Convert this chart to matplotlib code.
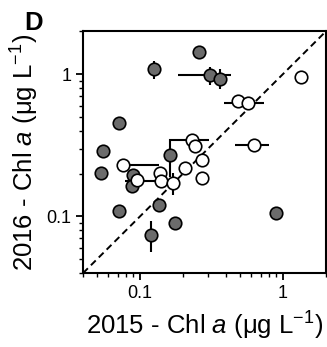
import matplotlib
matplotlib.use("Agg")
import matplotlib.pyplot as plt
from matplotlib.ticker import FixedLocator, LogLocator, NullFormatter

plt.rcParams['font.family'] = ['Liberation Sans', 'DejaVu Sans']
plt.rcParams['mathtext.fontset'] = 'custom'
plt.rcParams['mathtext.rm'] = 'Liberation Sans'
plt.rcParams['mathtext.it'] = 'Liberation Sans:italic'

# open circles
w_x = [0.076, 0.137, 0.095, 0.140, 0.170, 0.231, 0.244, 0.272, 0.207, 0.272, 0.484, 0.565, 0.63, 1.34]
w_y = [0.230, 0.201, 0.181, 0.176, 0.171, 0.345, 0.31, 0.25, 0.218, 0.186, 0.65, 0.623, 0.32, 0.953]
w_xlo = [0, 0, 0, 0.061, 0, 0.072, 0, 0, 0, 0, 0, 0.175, 0.165, 0]
w_xhi = [0.060, 0, 0, 0, 0, 0.072, 0, 0, 0, 0, 0, 0.175, 0.165, 0]
w_yerr = [0, 0, 0, 0, 0.03, 0, 0, 0, 0.02, 0, 0, 0, 0, 0]

# filled circles
g_x = [0.26, 0.126, 0.31, 0.36, 0.0716, 0.0548, 0.161, 0.0536, 0.090, 0.088, 0.0709, 0.136, 0.177, 0.119, 0.90]
g_y = [1.43, 1.08, 0.98, 0.93, 0.45, 0.287, 0.27, 0.201, 0.196, 0.164, 0.110, 0.121, 0.090, 0.0745, 0.106]
g_xerr = [0, 0, 0.125, 0, 0, 0, 0, 0, 0, 0, 0, 0, 0, 0, 0]
g_yerr = [0, 0.16, 0.14, 0.15, 0, 0, 0.08, 0, 0, 0, 0.01, 0.012, 0, 0.018, 0]

fig = plt.figure(figsize=(3.27, 3.47), dpi=100)
ax = fig.add_axes([0.254, 0.213, 0.743, 0.697])

lims = [0.04, 2]
ax.plot(lims, lims, color='black', lw=1.4, ls=(0, (3.5, 2.2)), zorder=1)

ax.errorbar(g_x, g_y, xerr=g_xerr, yerr=g_yerr, fmt='none', ecolor='black', elinewidth=1.5, capsize=0, zorder=2)
ax.errorbar(w_x, w_y, xerr=[w_xlo, w_xhi], yerr=w_yerr, fmt='none', ecolor='black', elinewidth=1.5, capsize=0, zorder=2)
ax.plot(g_x, g_y, 'o', ms=9, mfc='#6b6b6b', mec='black', mew=1.2, zorder=3)
ax.plot(w_x, w_y, 'o', ms=9, mfc='white', mec='black', mew=1.2, zorder=3)

ax.set_xscale('log')
ax.set_yscale('log')
ax.set_xlim(lims)
ax.set_ylim(lims)

for a in (ax.xaxis, ax.yaxis):
    a.set_major_locator(FixedLocator([0.1, 1]))
    a.set_minor_locator(LogLocator(base=10, subs=range(2, 10)))
    a.set_minor_formatter(NullFormatter())
ax.set_xticklabels(['0.1', '1'])
ax.set_yticklabels(['0.1', '1'])

ax.tick_params(which='major', length=5, width=1.3, labelsize=13, direction='out')
ax.tick_params(which='minor', length=3, width=1.0, direction='out')
for s in ax.spines.values():
    s.set_linewidth(1.5)

ax.set_xlabel('2015 - Chl $\\it{a}$ (μg L$^{-1}$)', fontsize=18.5, labelpad=6)
ax.set_ylabel('2016 - Chl $\\it{a}$ (μg L$^{-1}$)', fontsize=18.5, labelpad=4)

fig.text(0.075, 0.968, 'D', fontsize=18.5, fontweight='bold', va='top')

fig.savefig('out.png', dpi=100)
